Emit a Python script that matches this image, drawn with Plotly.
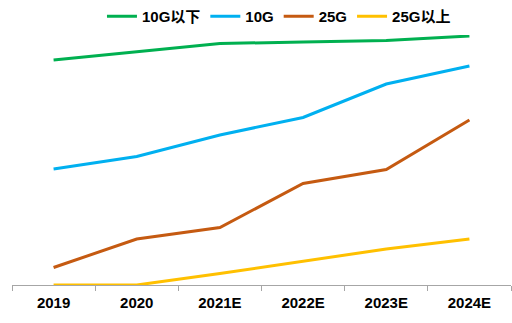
import plotly.graph_objects as go

years = ["2019", "2020", "2021E", "2022E", "2023E", "2024E"]
below_10g = [225, 233.5, 241.5, 243, 244.5, 249]
g10 = [116, 128.5, 150, 167.5, 201, 219]
g25 = [17.5, 46, 57.5, 101.5, 115.5, 165]
above_25g = [0, 0, 11.5, 23.5, 36, 46]

series_names = ["10G以下", "10G", "25G", "25G以上"]
series_colors = ["#00B050", "#00B0F0", "#C55A11", "#FFC000"]
series_values = [below_10g, g10, g25, above_25g]

font_family = "Arial, Liberation Sans, Noto Sans CJK SC, sans-serif"

fig = go.Figure()
for name, color, vals in zip(series_names, series_colors, series_values):
    fig.add_trace(go.Scatter(
        x=years, y=vals, name=name, mode="lines",
        line=dict(color=color, width=3),
    ))

fig.update_layout(
    width=512, height=323,
    margin=dict(l=12, r=1, t=35, b=38, autoexpand=False),
    paper_bgcolor="white", plot_bgcolor="white",
    font=dict(family=font_family, color="black", size=15),
    showlegend=True,
    legend=dict(
        orientation="h", x=0.535, xanchor="center",
        yref="container", y=1.0, yanchor="top",
        font=dict(family=font_family, size=15, weight="bold"),
        bgcolor="rgba(0,0,0,0)", itemwidth=30, tracegroupgap=0,
    ),
)
fig.update_xaxes(
    type="category", showgrid=False, zeroline=False,
    showline=True, linecolor="#A6A6A6", linewidth=1,
    ticks="outside", tickson="boundaries", ticklen=5, tickcolor="#A6A6A6",
    tickfont=dict(family=font_family, size=15, weight="bold", color="black"),
    ticklabelstandoff=4,
    range=[-0.5, 5.5],
)
fig.update_yaxes(
    range=[0, 250], showgrid=False, zeroline=False, showline=False,
    showticklabels=False, ticks="",
)

fig.write_html("out.html")
